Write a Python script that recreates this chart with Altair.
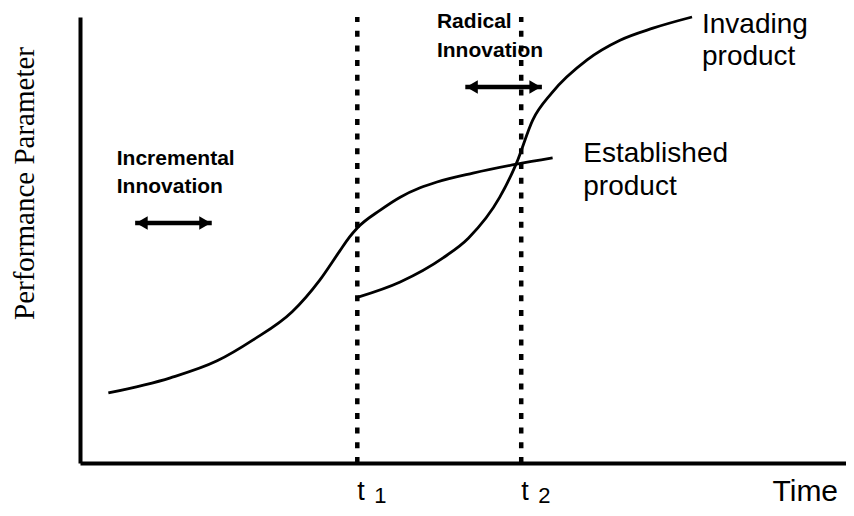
import altair as alt
import pandas as pd

# Established product S-curve (time, performance)
est_time = [3.7, 11.8, 17.9, 22.6, 27.7, 31.3, 33.9, 35.2, 36.2, 39.2, 41.8, 44.4, 46.6, 51.3, 57.0, 61.7]
est_perf = [15.7, 19.1, 22.9, 27.6, 33.9, 41.0, 47.5, 50.7, 52.7, 56.7, 59.6, 61.7, 63.0, 65.0, 67.0, 68.4]

# Invading product S-curve
inv_time = [36.3, 41.8, 47.4, 50.7, 54.8, 57.0, 59.1, 61.6, 66.2, 70.5, 74.8, 79.9]
inv_perf = [37.2, 40.6, 46.0, 50.4, 59.6, 67.3, 76.9, 83.0, 90.4, 94.8, 97.5, 100.0]

# Vertical markers t1, t2
t_names = ["t", "t"]
t_subs = ["1", "2"]
t_values = [36.2, 57.6]

# Double-headed arrows (start, end, level)
arrow_start = [7.2, 50.3]
arrow_end = [17.2, 60.3]
arrow_level = [53.8, 84.3]

# Bold annotations
bold_text = ["Incremental", "Innovation", "Radical", "Innovation"]
bold_x = [4.8, 4.8, 46.6, 46.6]
bold_y = [66.8, 60.5, 97.5, 91.0]

# Curve labels
curve_text = ["Invading", "product", "Established", "product"]
curve_x = [81.2, 81.2, 65.7, 65.7]
curve_y = [96.4, 89.3, 67.5, 60.1]

curves = pd.DataFrame({
    "time": est_time + inv_time,
    "perf": est_perf + inv_perf,
    "product": ["Established"] * len(est_time) + ["Invading"] * len(inv_time),
})
tdf = pd.DataFrame({"t": t_values, "name": t_names, "sub": t_subs, "lo": [0, 0], "hi": [100, 100]})
arrows = pd.DataFrame({"x1": arrow_start, "x2": arrow_end, "y": arrow_level})
bold_df = pd.DataFrame({"text": bold_text, "x": bold_x, "y": bold_y})
curve_df = pd.DataFrame({"text": curve_text, "x": curve_x, "y": curve_y})

xscale = alt.Scale(domain=[0, 100], nice=False, zero=False)
yscale = alt.Scale(domain=[0, 100], nice=False, zero=False)

x_axis = alt.Axis(domain=True, domainColor="black", domainWidth=4, ticks=False, labels=False,
                  grid=False, title="Time", titleFont="Liberation Sans", titleFontSize=30,
                  titleFontWeight="normal", titleColor="black", titleX=692, titleY=37,
                  titleAlign="left", titleBaseline="alphabetic")
y_axis = alt.Axis(domain=True, domainColor="black", domainWidth=4, ticks=False, labels=False,
                  grid=False, title="Performance Parameter", titleFont="Liberation Serif",
                  titleFontSize=29, titleFontWeight="normal", titleColor="black", titleAngle=270,
                  titleAlign="center", titleBaseline="alphabetic", titleX=-47, titleY=166)

lines = alt.Chart(curves).mark_line(color="black", strokeWidth=2.8, interpolate="monotone", clip=False).encode(
    x=alt.X("time:Q", scale=xscale, axis=x_axis),
    y=alt.Y("perf:Q", scale=yscale, axis=y_axis),
    detail="product:N",
)

vlines = alt.Chart(tdf).mark_rule(color="black", strokeWidth=4.5, strokeDash=[6, 8.7]).encode(
    x="t:Q", y="lo:Q", y2="hi:Q"
)

t_text = alt.Chart(tdf).mark_text(font="Liberation Sans", fontSize=27, align="left",
                                  baseline="alphabetic", dx=0, dy=37, color="black").encode(
    x="t:Q", y=alt.datum(0), text="name:N"
)
t_sub = alt.Chart(tdf).mark_text(font="Liberation Sans", fontSize=22, align="left",
                                 baseline="alphabetic", dx=17, dy=40, color="black").encode(
    x="t:Q", y=alt.datum(0), text="sub:N"
)

shafts = alt.Chart(arrows).mark_rule(color="black", strokeWidth=4.5).encode(
    x="x1:Q", x2="x2:Q", y="y:Q"
)
head_l = alt.Chart(arrows).mark_point(shape="triangle-left", filled=True, color="black",
                                      size=180, opacity=1, xOffset=6.7).encode(x="x1:Q", y="y:Q")
head_r = alt.Chart(arrows).mark_point(shape="triangle-right", filled=True, color="black",
                                      size=180, opacity=1, xOffset=-6.7).encode(x="x2:Q", y="y:Q")

bold_labels = alt.Chart(bold_df).mark_text(font="Liberation Sans", fontSize=21, fontWeight="bold",
                                           align="left", baseline="alphabetic", color="black").encode(
    x="x:Q", y="y:Q", text="text:N"
)
curve_labels = alt.Chart(curve_df).mark_text(font="Liberation Sans", fontSize=28,
                                             align="left", baseline="alphabetic", color="black").encode(
    x="x:Q", y="y:Q", text="text:N"
)

chart = alt.layer(lines, vlines, t_text, t_sub, shafts, head_l, head_r, bold_labels, curve_labels).properties(
    width=766, height=446,
    autosize=alt.AutoSizeParams(type="none"),
    padding={"left": 72, "top": 9, "right": 0, "bottom": 45},
    background="white",
).configure_view(stroke=None)

chart.save("out.html", embed_options={"renderer": "svg", "actions": False})
